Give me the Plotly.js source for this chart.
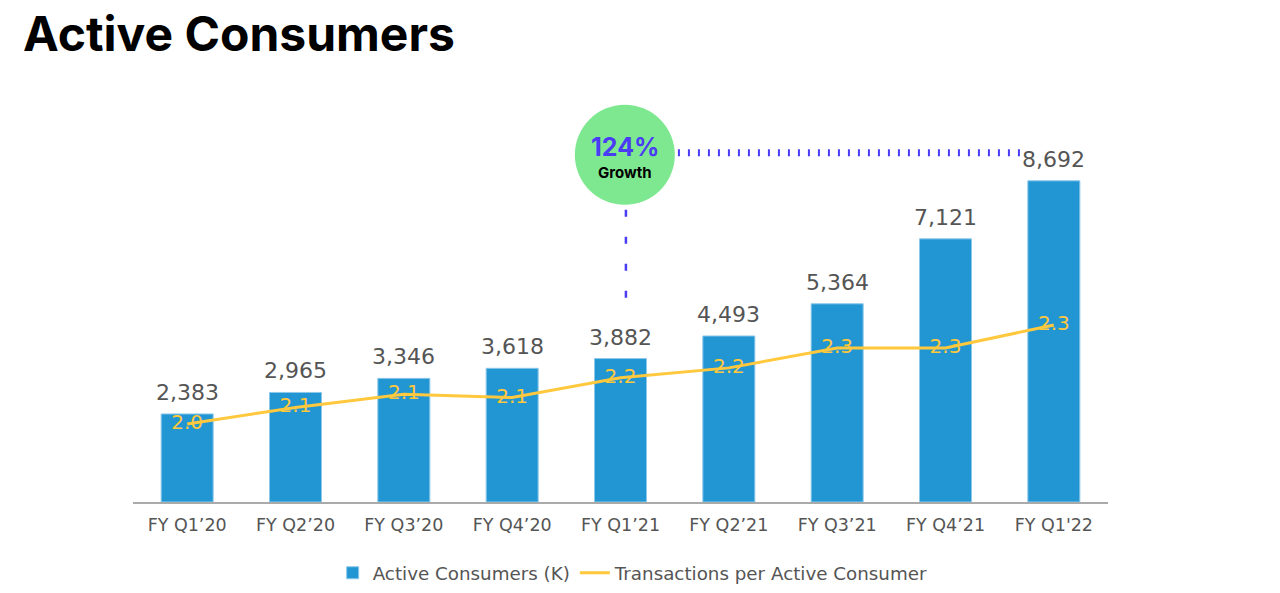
<!DOCTYPE html>
<html>
<head>
<meta charset="utf-8">
<script src="https://cdn.plot.ly/plotly-3.0.1.min.js"></script>
<style>html,body{margin:0;padding:0;background:#fff;}#chart{width:1280px;height:593px;}</style>
</head>
<body>
<div id="chart"></div>
<script>
const quarters = ["FY Q1’20","FY Q2’20","FY Q3’20","FY Q4’20","FY Q1’21","FY Q2’21","FY Q3’21","FY Q4’21","FY Q1'22"];
const activeConsumers = [2383, 2965, 3346, 3618, 3882, 4493, 5364, 7121, 8692];
const transactionsPerConsumer = [2.04, 2.09, 2.13, 2.12, 2.18, 2.21, 2.27, 2.27, 2.34];
const transactionsLabels = ["2.0","2.1","2.1","2.1","2.2","2.2","2.3","2.3","2.3"];

const bars = {
  type: 'bar', name: 'Active Consumers (K)',
  x: quarters, y: activeConsumers,
  marker: {color: '#2196D3', line: {color: '#8cc8ea', width: 1}},
  hoverinfo: 'x+y'
};
const line = {
  type: 'scatter', mode: 'lines+text', name: 'Transactions per Active Consumer',
  x: quarters, y: transactionsPerConsumer, yaxis: 'y2',
  line: {color: '#FFC83D', width: 3},
  text: transactionsLabels, textposition: 'middle center',
  textfont: {family: 'DejaVu Sans', size: 20, color: '#FFC83D'},
  cliponaxis: false
};

const barLabels = quarters.map((q, i) => ({
  x: q, y: activeConsumers[i], xref: 'x', yref: 'y',
  text: activeConsumers[i].toLocaleString('en-US'),
  showarrow: false, yanchor: 'bottom', yshift: 7,
  font: {family: 'DejaVu Sans', size: 22, color: '#555555'}
}));

const purple = '#4A3CF5';
const layout = {
  width: 1280, height: 593,
  margin: {l: 133, r: 172, t: 90, b: 91, autoexpand: false},
  paper_bgcolor: '#ffffff', plot_bgcolor: '#ffffff',
  bargap: 0.52,
  showlegend: true,
  legend: {orientation: 'h', x: 0.513, xanchor: 'center', y: -0.172, yanchor: 'middle',
           font: {family: 'DejaVu Sans', size: 18.3, color: '#555555'}},
  xaxis: {type: 'category', showgrid: false, showline: true, linecolor: '#aaaaaa', linewidth: 1.5,
          ticks: '', ticklabelstandoff: 6,
          tickfont: {family: 'DejaVu Sans', size: 17.5, color: '#555555'}, zeroline: false},
  yaxis: {range: [0, 11150], visible: false, showgrid: false, zeroline: false},
  yaxis2: {range: [1.8036, 3.052], overlaying: 'y', side: 'right', visible: false, showgrid: false, zeroline: false},
  shapes: [
    {type: 'line', xref: 'x', yref: 'y', x0: 4.53, x1: 7.69, y0: 9450, y1: 9450,
     line: {color: purple, width: 7, dash: '2px,8px'}, layer: 'above'},
    {type: 'line', xref: 'x', yref: 'y', x0: 4.05, x1: 4.05, y0: 7907, y1: 5470,
     line: {color: purple, width: 2.5, dash: '7px,20px'}, layer: 'above'},
    {type: 'circle', xref: 'x', yref: 'y', xsizemode: 'pixel', ysizemode: 'pixel',
     xanchor: 4.04, yanchor: 9396, x0: -50, x1: 50, y0: -50, y1: 50,
     fillcolor: '#7DE88F', line: {width: 0}, layer: 'above'}
  ],
  annotations: barLabels.concat([
    {text: '<b>Active Consumers</b>', xref: 'paper', yref: 'paper', x: -0.1149, y: 1.138,
     xanchor: 'left', yanchor: 'middle', showarrow: false,
     font: {family: 'Inter', size: 48, color: '#000000', weight: 900}},
    {text: '<b>124%</b>', xref: 'x', yref: 'y', x: 4.04, y: 9600, showarrow: false,
     font: {family: 'Inter', size: 25, color: purple}, yanchor: 'middle'},
    {text: '<b>Growth</b>', xref: 'x', yref: 'y', x: 4.04, y: 8920, showarrow: false,
     font: {family: 'Inter', size: 15, color: '#000000'}, yanchor: 'middle'}
  ])
};
Plotly.newPlot('chart', [bars, line], layout, {displayModeBar: false});
</script>
</body>
</html>
